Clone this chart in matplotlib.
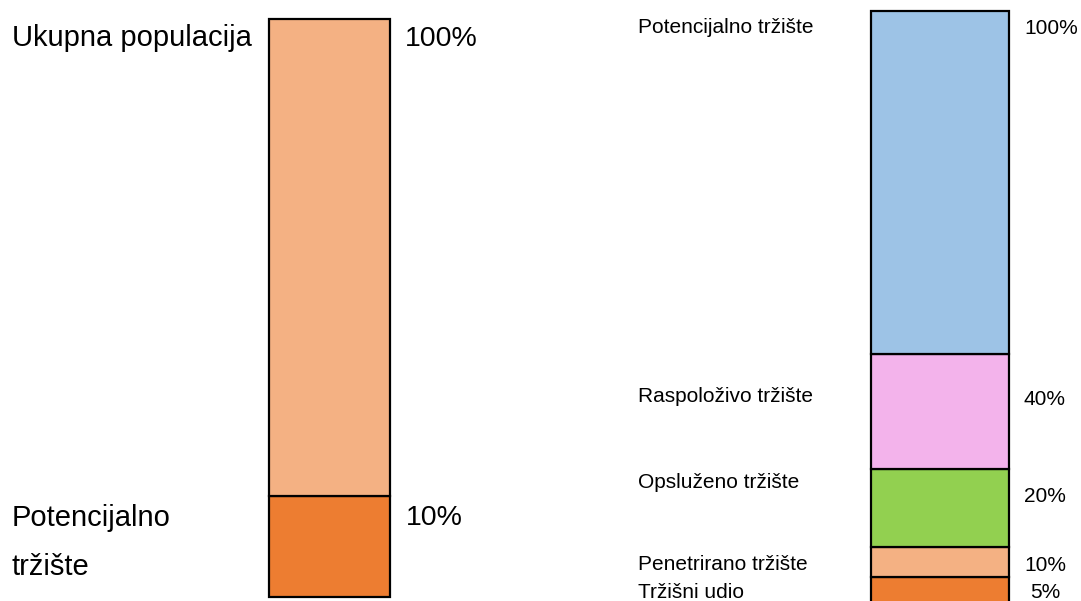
import matplotlib
matplotlib.use("Agg")
from matplotlib import pyplot as plt

plt.rcParams['font.family'] = ['Liberation Sans', 'DejaVu Sans']

# left column: total population vs potential market
left_names = ["Potencijalno\n\ntržište", "Ukupna populacija"]
left_labels = ["10%", "100%"]
left_heights = [101, 477]          # drawn heights (bottom -> top)
left_colors = ["#ED7D31", "#F4B183"]

# right column: market funnel
right_names = ["Tržišni udio", "Penetrirano tržište", "Opsluženo tržište",
               "Raspoloživo tržište", "Potencijalno tržište"]
right_labels = ["5%", "10%", "20%", "40%", "100%"]
right_heights = [30, 30, 78, 115, 343]   # drawn heights (bottom -> top)
right_colors = ["#ED7D31", "#F4B183", "#92D050", "#F3B3EB", "#9DC3E6"]

W, H = 1081, 601
fig = plt.figure(figsize=(W / 100, H / 100), dpi=100)


def px(x, y):
    return x / W, 1 - y / H


def stacked(rect, heights, colors, lw):
    ax = fig.add_axes(rect)
    bottom = 0
    for h, c in zip(heights, colors):
        ax.bar(0, h, width=1, bottom=bottom, color=c, edgecolor="black",
               linewidth=lw, clip_on=False)
        bottom += h
    ax.set_xlim(-0.5, 0.5)
    ax.set_ylim(0, bottom)
    ax.axis("off")
    return ax


# bars
stacked([269 / W, 4 / H, 121 / W, 578 / H], left_heights, left_colors, 1.6)
stacked([871 / W, -6 / H, 138 / W, 596 / H], right_heights, right_colors, 1.6)

# left texts (name x, name baseline, value x, value baseline)
left_name_pos = [(12, 526), (12, 46)]
left_val_pos = [(406, 525), (405, 46)]
for name, lab, (nx, ny), (vx, vy) in zip(left_names, left_labels,
                                         left_name_pos, left_val_pos):
    lines = name.split("\n\n")
    for k, line in enumerate(lines):
        fig.text(*px(nx, ny + 49 * k), line, fontsize=21, va="baseline")
    fig.text(*px(vx, vy), lab, fontsize=20.5, va="baseline")

# right texts
right_name_pos = [(638, 598), (638, 570), (638, 488), (638, 402), (638, 33)]
right_val_pos = [(1030, 598), (1024, 571), (1024, 502), (1024, 405), (1024, 34)]
for name, lab, (nx, ny), (vx, vy) in zip(right_names, right_labels,
                                         right_name_pos, right_val_pos):
    fig.text(*px(nx, ny), name, fontsize=15, va="baseline")
    fig.text(*px(vx, vy), lab, fontsize=15, va="baseline")

fig.savefig("out.png", dpi=100)
